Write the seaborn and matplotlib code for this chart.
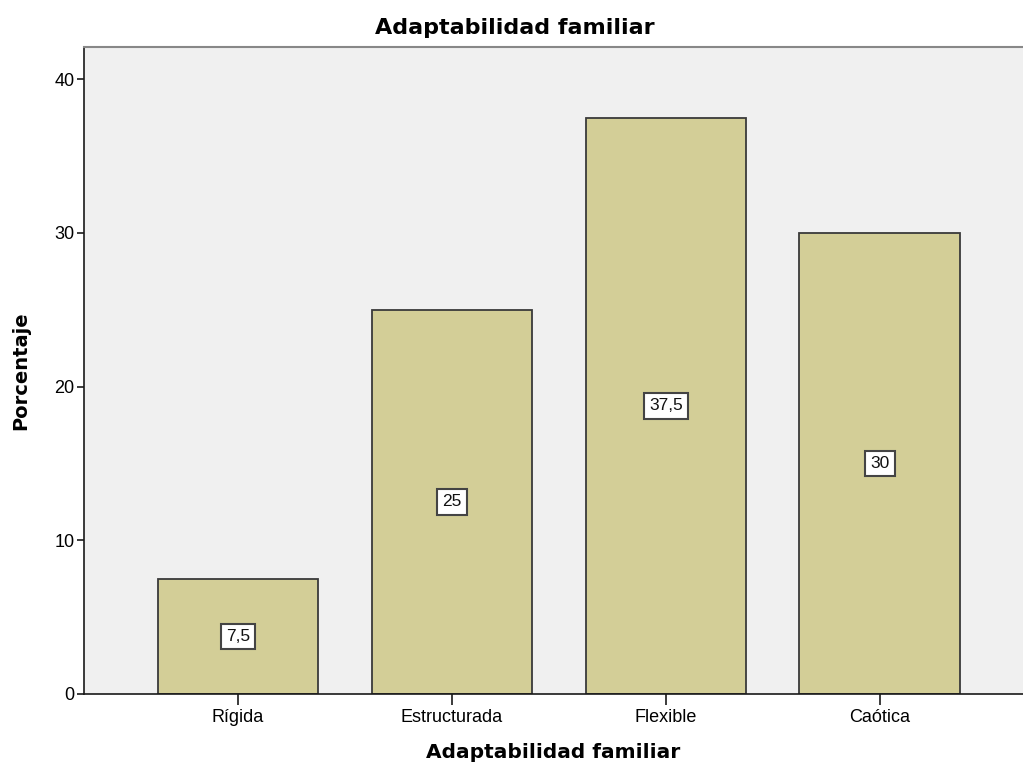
import matplotlib
matplotlib.use("Agg")
import matplotlib.pyplot as plt
import seaborn as sns
import pandas as pd

categories = ["Rígida", "Estructurada", "Flexible", "Caótica"]
percentages = [7.5, 25, 37.5, 30]
value_labels = ["7,5", "25", "37,5", "30"]

df = pd.DataFrame({"Adaptabilidad familiar": categories, "Porcentaje": percentages})

sns.set_style("white")
plt.rcParams["font.family"] = ["Liberation Sans", "DejaVu Sans"]
plt.rcParams["text.color"] = "black"
plt.rcParams["axes.labelcolor"] = "black"
plt.rcParams["xtick.color"] = "black"
plt.rcParams["ytick.color"] = "black"

fig = plt.figure(figsize=(10.23, 7.67), dpi=100)
ax = fig.add_axes([0.0821, 0.0952, 0.9179, 0.8435])
ax.set_facecolor("#F0F0F0")

sns.barplot(data=df, x="Adaptabilidad familiar", y="Porcentaje", ax=ax,
            color="#D3CE97", saturation=1, width=0.75,
            edgecolor="#3A3A3A", linewidth=1.3)

for patch, lab in zip(ax.patches, value_labels):
    cx = patch.get_x() + patch.get_width() / 2
    cy = patch.get_height() / 2
    ax.text(cx, cy, lab, ha="center", va="center", fontsize=12.5, color="#111111",
            bbox=dict(boxstyle="square,pad=0.3", facecolor="white",
                      edgecolor="#444444", linewidth=1.5))

ax.set_xlim(-0.72, 3.67)
ax.set_ylim(0, 42.1)
ax.set_yticks([0, 10, 20, 30, 40])

ax.spines["right"].set_visible(False)
ax.spines["top"].set_color("#888888")
ax.spines["top"].set_linewidth(1.5)
for s in ["left", "bottom"]:
    ax.spines[s].set_color("#1A1A1A")
    ax.spines[s].set_linewidth(1.2)

ax.tick_params(axis="y", direction="out", length=5, width=1.2, color="#1A1A1A",
               labelsize=13, pad=2, left=True)
ax.tick_params(axis="x", direction="out", length=8, width=1.2, color="#1A1A1A",
               labelsize=13, pad=3, bottom=True)

ax.set_xlabel("Adaptabilidad familiar", fontsize=14.5, fontweight="bold",
              family="DejaVu Sans", labelpad=12)
ax.set_ylabel("Porcentaje", fontsize=14, fontweight="bold",
              family="DejaVu Sans", labelpad=17)
fig.suptitle("Adaptabilidad familiar", fontsize=16, fontweight="bold",
             family="DejaVu Sans", x=0.503, y=0.9635, va="center")

fig.savefig("out.png", dpi=100)
